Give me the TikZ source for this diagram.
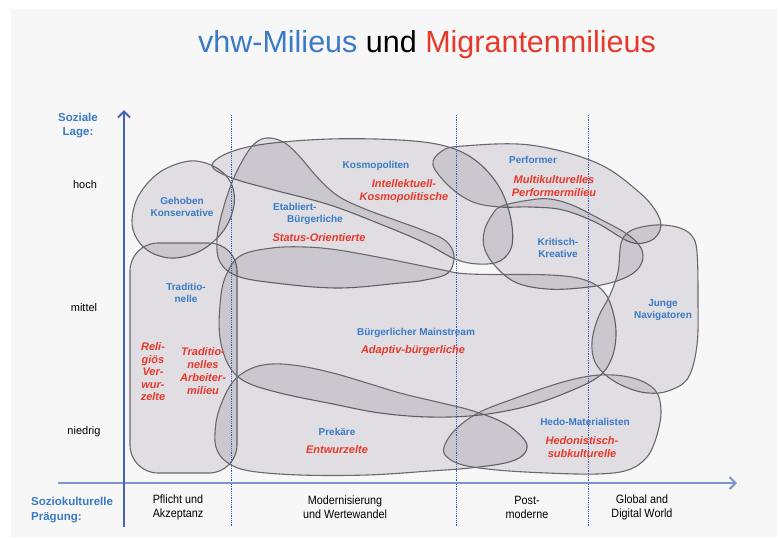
\documentclass[tikz,border=0pt]{standalone}
\usepackage{fontspec}
\setmainfont{Liberation Sans}
\newfontfamily\narrowfont{Liberation Sans}[FakeStretch=0.9]
\usetikzlibrary{arrows.meta}
\definecolor{vhwblue}{RGB}{58,122,198}
\definecolor{migred}{RGB}{232,56,42}
\definecolor{axisblue}{RGB}{68,100,182}
\definecolor{axislight}{RGB}{122,150,208}
\definecolor{dotblue}{RGB}{60,90,200}
\definecolor{paper}{RGB}{247,247,247}
\definecolor{outline}{RGB}{105,105,108}
\definecolor{blobfill}{RGB}{40,20,60}

\begin{document}
\begin{tikzpicture}[x=1pt, y=-1pt,
      milieu/.style={draw=outline, line width=1.1pt, fill=blobfill, fill opacity=0.11},
      vhw/.style={text=vhwblue, font=\bfseries\fontsize{10}{12}\selectfont, align=center, inner sep=0pt},
      mig/.style={text=migred, font=\bfseries\itshape\fontsize{11}{13}\selectfont, align=center, inner sep=0pt},
      axis/.style={line width=2pt, -{Straight Barb[length=6pt, width=12pt]}},
      phase/.style={dotblue, densely dotted, line width=0.8pt},
      level/.style={font=\fontsize{11}{13}\selectfont, inner sep=0pt},
      era/.style={font=\narrowfont\fontsize{12}{14}\selectfont, align=center, inner sep=0pt},
      axislabel/.style={text=vhwblue, font=\bfseries\fontsize{11.5}{14}\selectfont, inner sep=0pt}
    ]
    \useasboundingbox (0,0) rectangle (780,539);
    \fill[paper] (11,9) rectangle (777,537);

    \node[anchor=base, font=\fontsize{30.5}{36}\selectfont] (title) at (427,52)
      {\textcolor{vhwblue}{vhw-Milieus} und \textcolor{migred}{Migrantenmilieus}};

    % milieus
    \draw[milieu] plot[smooth cycle, tension=0.6] coordinates {(190,161) (215,167) (231,183) (234,205) (224,230) (202,250) (175,258) (152,253) (137,239) (132,220) (139,195) (160,172)};
    \draw[milieu, rounded corners=28] (130,243) rectangle (237,473);
    \draw[milieu] plot[smooth cycle, tension=0.6] coordinates {(212,166) (228,153) (265,144) (330,139) (400,140) (445,146) (475,160) (498,185) (510,215) (512,245) (500,261) (478,264) (455,259) (425,243) (385,226) (330,205) (270,189) (232,178)};
    \draw[milieu] plot[smooth cycle, tension=0.6] coordinates {(270,138) (285,143) (300,157) (318,178) (338,196) (365,209) (395,220) (425,231) (446,241) (454,256) (448,273) (425,280) (400,283) (338,288) (275,283) (237,276) (220,262) (217,240) (222,213) (233,180) (247,153) (258,141)};
    \draw[milieu] plot[smooth cycle, tension=0.6] coordinates {(433,165) (442,151) (463,146) (530,145) (597,163) (640,193) (658,215) (660,230) (650,241) (630,242) (597,223) (563,210) (530,207) (500,207) (473,202) (450,187)};
    \draw[milieu] plot[smooth cycle, tension=0.6] coordinates {(502,206) (530,200) (550,199) (572,205) (598,218) (627,234) (641,248) (642,262) (632,274) (610,283) (580,288) (547,289) (517,283) (497,268) (485,250) (484,232) (492,215)};
    \draw[milieu] plot[smooth cycle, tension=0.6] coordinates {(240,256) (272,248) (305,247) (338,250) (388,259) (438,269) (470,274) (550,275) (585,280) (604,292) (613,312) (616,336) (611,360) (598,377) (568,392) (528,406) (480,415) (430,417) (380,413) (333,404) (280,393) (246,382) (229,366) (220,338) (220,305) (225,278)};
    \draw[milieu] plot[smooth cycle, tension=0.6] coordinates {(620,250) (623,238) (632,230) (647,226) (663,225) (680,228) (692,236) (697,252) (698,300) (697,345) (688,378) (668,391) (648,393) (628,388) (608,377) (595,362) (592,342) (598,318) (610,295) (618,272)};
    \draw[milieu] plot[smooth cycle, tension=0.6] coordinates {(215,433) (219,410) (232,383) (250,369) (272,364) (300,366) (333,373) (367,383) (400,393) (433,401) (470,410) (500,421) (518,433) (527,445) (522,456) (505,463) (470,468) (430,471) (367,475) (300,475) (250,471) (228,463) (217,450)};
    \draw[milieu] plot[smooth cycle, tension=0.6] coordinates {(444,447) (455,430) (478,413) (513,399) (563,382) (600,375) (633,378) (655,390) (661,410) (657,435) (647,457) (628,470) (597,474) (547,473) (497,470) (463,465) (447,457)};

    % phases
    \coordinate (p1top) at (231,115);
    \coordinate (p1bot) at (231,527);
    \coordinate (p2top) at (456,115);
    \coordinate (p2bot) at (456,527);
    \coordinate (p3top) at (588,115);
    \coordinate (p3bot) at (588,527);
    \draw[phase] (p1top) -- (p1bot);
    \draw[phase] (p2top) -- (p2bot);
    \draw[phase] (p3top) -- (p3bot);

    % axes
    \coordinate (ybot) at (124,527);
    \coordinate (ytop) at (124,110);
    \coordinate (xleft) at (58,483);
    \coordinate (xright) at (737,483);
    \draw[axis, axislight] (xleft) -- (xright);
    \draw[axis, axisblue] (ybot) -- (ytop);

    \node[axislabel, align=center] (lage) at (78,126) {Soziale\\Lage:};
    \node[level] (hoch) at (85,185) {hoch};
    \node[level] (mittel) at (84,308) {mittel};
    \node[level] (niedrig) at (84,432) {niedrig};
    \node[axislabel, align=left, anchor=west, font=\bfseries\fontsize{11.5}{15}\selectfont] (praegung) at (31,510) {Soziokulturelle\\Prägung:};

    \node[era] (pflicht) at (178,507) {Pflicht und\\Akzeptanz};
    \node[era] (modern) at (345,507) {Modernisierung\\und Wertewandel};
    \node[era] (postmod) at (527,507) {Post-\\moderne};
    \node[era] (global) at (642,507) {Global and\\Digital World};

    % labels
    \node[vhw] (gehoben) at (182,207) {Gehoben\\Konservative};
    \node[vhw] (tradi) at (186,293) {Traditio-\\nelle};
    \node[mig, font=\bfseries\itshape\fontsize{11}{12.5}\selectfont] (religioes) at (153,372) {Reli-\\giös\\Ver-\\wur-\\zelte};
    \node[mig] (arbeiter) at (203,371) {Traditio-\\nelles\\Arbeiter-\\milieu};
    \node[vhw, align=left, anchor=west] (etabliert) at (273,214) {Etabliert-\\\hspace*{14pt}Bürgerliche};
    \node[mig] (status) at (319,238) {Status-Orientierte};
    \node[vhw] (kosmo) at (376,166) {Kosmopoliten};
    \node[mig] (intellekt) at (404,191) {Intellektuell-\\Kosmopolitische};
    \node[vhw] (performer) at (533,160) {Performer};
    \node[mig] (multikulti) at (554,186) {Multikulturelles\\Performermilieu};
    \node[vhw] (kritisch) at (558,248) {Kritisch-\\Kreative};
    \node[vhw] (junge) at (663,310) {Junge\\Navigatoren};
    \node[vhw] (mainstream) at (416,333) {Bürgerlicher Mainstream};
    \node[mig] (adaptiv) at (413,351) {Adaptiv-bürgerliche};
    \node[vhw] (prekaer) at (337,432) {Prekäre};
    \node[mig] (entwurzelt) at (337,450) {Entwurzelte};
    \node[vhw] (hedomat) at (585,422) {Hedo-Materialisten};
    \node[mig] (hedosub) at (582,447) {Hedonistisch-\\subkulturelle};
  \end{tikzpicture}
\end{document}
